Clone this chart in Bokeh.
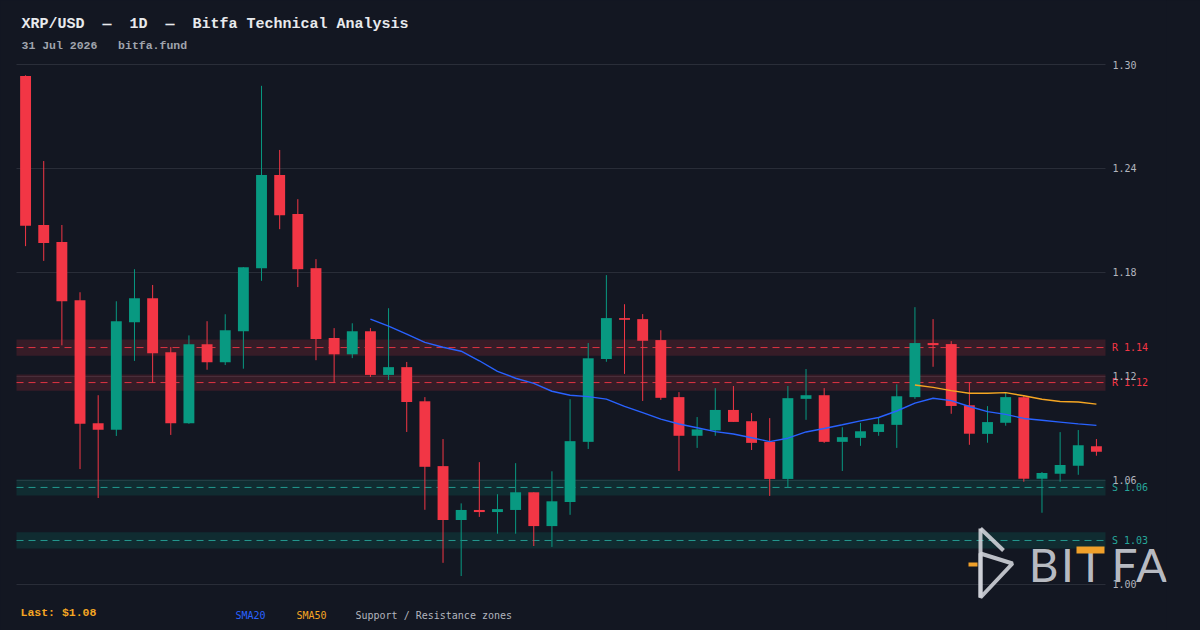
import numpy as np
import pandas as pd
from bokeh.plotting import figure
from bokeh.models import (Range1d, FixedTicker, PrintfTickFormatter, Label,
                          BoxAnnotation, PolyAnnotation, ColumnDataSource)
from bokeh.embed import file_html
from bokeh.resources import INLINE

# ---------------- data ----------------
opens = [1.2934, 1.2074, 1.1976, 1.1640, 1.0931, 1.0893, 1.1513, 1.1652, 1.1340, 1.0931,
         1.1386, 1.1282, 1.1461, 1.1825, 1.2362, 1.2137, 1.1825, 1.1422, 1.1328, 1.1461,
         1.1209, 1.1254, 1.1057, 1.0683, 1.0372, 1.0430, 1.0418, 1.0430, 1.0532, 1.0337,
         1.0476, 1.0823, 1.1301, 1.1537, 1.1531, 1.1410, 1.1081, 1.0858, 1.0889, 1.1007,
         1.0942, 1.0823, 1.0609, 1.1071, 1.1092, 1.0823, 1.0846, 1.0880, 1.0921, 1.1081,
         1.1393, 1.1387, 1.1034, 1.0869, 1.0933, 1.1081, 1.0610, 1.0639, 1.0685, 1.0798]
highs = [1.2938, 1.2443, 1.2074, 1.1686, 1.1092, 1.1634, 1.1819, 1.1728, 1.1370, 1.1437,
         1.1519, 1.1559, 1.1831, 1.2877, 1.2507, 1.2223, 1.1877, 1.1479, 1.1507, 1.1479,
         1.1594, 1.1284, 1.1081, 1.0839, 1.0468, 1.0706, 1.0521, 1.0700, 1.0532, 1.0653,
         1.1069, 1.1393, 1.1785, 1.1617, 1.1560, 1.1467, 1.1110, 1.0966, 1.1133, 1.1145,
         1.0989, 1.0960, 1.1145, 1.1243, 1.1133, 1.0907, 1.0932, 1.0966, 1.1155, 1.1600,
         1.1531, 1.1404, 1.1165, 1.1029, 1.1106, 1.1092, 1.0649, 1.0879, 1.0891, 1.0839]
lows = [1.1952, 1.1867, 1.1380, 1.0666, 1.0499, 1.0857, 1.1290, 1.1163, 1.0863, 1.0927,
        1.1239, 1.1266, 1.1245, 1.1752, 1.2050, 1.1716, 1.1294, 1.1167, 1.1306, 1.1197,
        1.1180, 1.0880, 1.0431, 1.0125, 1.0049, 1.0390, 1.0293, 1.0293, 1.0222, 1.0217,
        1.0402, 1.0782, 1.1285, 1.1215, 1.1059, 1.1065, 1.0655, 1.0788, 1.0858, 1.0938,
        1.0776, 1.0511, 1.0560, 1.0950, 1.0817, 1.0655, 1.0800, 1.0858, 1.0788, 1.1071,
        1.1256, 1.0985, 1.0806, 1.0818, 1.0916, 1.0593, 1.0414, 1.0593, 1.0633, 1.0743]
closes = [1.2069, 1.1970, 1.1634, 1.0927, 1.0893, 1.1519, 1.1652, 1.1334, 1.0931, 1.1386,
          1.1282, 1.1467, 1.1831, 1.2362, 1.2131, 1.1819, 1.1416, 1.1328, 1.1461, 1.1209,
          1.1254, 1.1053, 1.0679, 1.0372, 1.0430, 1.0418, 1.0435, 1.0532, 1.0337, 1.0480,
          1.0827, 1.1305, 1.1537, 1.1527, 1.1406, 1.1077, 1.0858, 1.0895, 1.1007, 1.0938,
          1.0817, 1.0609, 1.1075, 1.1092, 1.0823, 1.0850, 1.0884, 1.0925, 1.1086, 1.1393,
          1.1381, 1.1030, 1.0870, 1.0937, 1.1081, 1.0610, 1.0643, 1.0689, 1.0804, 1.0766]
resistance_levels = [1.1367, 1.1165]
support_levels = [1.0560, 1.0254]
zone_half_width = 0.0047
y_ticks = [1.00, 1.06, 1.12, 1.18, 1.24, 1.30]
NB = "\u00a0"  # keep the wide gaps of the original header
title_text = f"XRP/USD{NB*2}\u2014{NB*2}1D{NB*2}\u2014{NB*2}Bitfa Technical Analysis"
subtitle_text = f"31 Jul 2026{NB*3}bitfa.fund"
legend_items = ["SMA20", "SMA50", "Support / Resistance zones"]

# ---------------- style ----------------
BG = "#131722"
GRID = "#2a2e39"
UP = "#089981"
DOWN = "#f23645"
SUP = "#26a69a"
BLUE = "#2962ff"
ORANGE = "#f5a623"
AXIS_TXT = "#b2b5be"
MONO = "DejaVu Sans Mono"
HEAD = "Liberation Mono"

W, H = 1200, 630
MR = 34                      # right panel holds the price axis
FW, FH = W - MR, H
n = len(closes)
c0, c1 = -0.5, n - 0.5       # candle area
PX_X = 18.15                 # px per candle slot
PX_Y = 1733.33               # px per price unit
x_start = c0 - 16 / PX_X
x_end = x_start + FW / PX_X
y_top = 1.30 + 64 / PX_Y
y_bot = y_top - FH / PX_Y


def dx(px):  # page pixel -> data x
    return x_start + px / PX_X


def dy(py):  # page pixel -> data y
    return y_top - py / PX_Y


p = figure(width=W, height=H, output_backend="svg", toolbar_location=None,
           x_axis_location=None, y_axis_location="right",
           x_range=Range1d(x_start, x_end), y_range=Range1d(y_bot, y_top),
           min_border_left=0, min_border_right=MR,
           min_border_top=0, min_border_bottom=0)
p.background_fill_color = BG
p.border_fill_color = BG
p.outline_line_color = None
p.xgrid.visible = False
p.ygrid.visible = False

ax = p.yaxis[0]
ax.fixed_location = c1
ax.level = "overlay"
ax.ticker = FixedTicker(ticks=y_ticks)
ax.formatter = PrintfTickFormatter(format="%.2f")
ax.axis_line_color = None
ax.major_tick_line_color = None
ax.minor_tick_line_color = None
ax.major_tick_out = 0
ax.major_tick_in = 0
ax.major_label_standoff = 7
ax.major_label_text_font = MONO
ax.major_label_text_font_size = "10px"
ax.major_label_text_color = AXIS_TXT

# grid lines across the candle area
p.segment(x0=c0, x1=c1, y0=y_ticks, y1=y_ticks, line_color=GRID, line_width=1)

# support / resistance zones
levels = resistance_levels + support_levels
tags = ["R"] * len(resistance_levels) + ["S"] * len(support_levels)
zfill = [DOWN if t == "R" else UP for t in tags]
zline = [DOWN if t == "R" else SUP for t in tags]
zsrc = ColumnDataSource(dict(
    lvl=levels, bottom=[l - zone_half_width for l in levels],
    top=[l + zone_half_width for l in levels], fill=zfill, line=zline))
p.quad(left=c0, right=c1, bottom="bottom", top="top", fill_color="fill",
       fill_alpha=0.16, line_color=None, source=zsrc)
p.segment(x0=c0, x1=c1, y0="lvl", y1="lvl", line_color="line", line_dash="7 5",
          line_width=1, line_alpha=0.9, source=zsrc)
for lvl, tag, col in zip(levels, tags, zline):
    p.add_layout(Label(x=c1, y=lvl, x_offset=6.5, text=f"{tag} {lvl:.2f}",
                       text_font=MONO, text_font_size="10px", text_color=col,
                       text_baseline="middle", text_align="left"))

# candles
o = np.array(opens); c = np.array(closes)
src = ColumnDataSource(dict(
    x=np.arange(n), high=highs, low=lows,
    top=np.maximum(o, c), bottom=np.minimum(o, c),
    color=[UP if cc >= oo else DOWN for oo, cc in zip(opens, closes)]))
p.segment(x0="x", y0="high", x1="x", y1="low", line_color="color", line_width=1, source=src)
p.vbar(x="x", width=0.6, top="top", bottom="bottom", fill_color="color",
       line_color=None, source=src)

# moving averages
s = pd.Series(closes)
p.line(np.arange(n), s.rolling(20).mean().to_numpy(), line_color=BLUE, line_width=1.4)
p.line(np.arange(n), s.rolling(50).mean().to_numpy(), line_color=ORANGE, line_width=1.4)

# header texts
p.add_layout(Label(x=dx(21), y=dy(24), text=title_text, text_font=HEAD,
                   text_font_size="15px", text_font_style="bold", text_color="#e8eaed",
                   text_baseline="middle"))
p.add_layout(Label(x=dx(21), y=dy(45), text=subtitle_text, text_font=HEAD,
                   text_font_size="11.5px", text_font_style="bold", text_color="#a0a4ad",
                   text_baseline="middle"))

# footer texts
p.add_layout(Label(x=dx(20), y=dy(612), text=f"Last: ${closes[-1]:.2f}", text_font=HEAD,
                   text_font_size="11.5px", text_font_style="bold", text_color=ORANGE,
                   text_baseline="middle"))
for txt, px, col in zip(legend_items, [235, 296, 355], [BLUE, ORANGE, AXIS_TXT]):
    p.add_layout(Label(x=dx(px), y=dy(615), text=txt, text_font=MONO,
                       text_font_size="10px", text_color=col, text_baseline="middle"))

# watermark logo
LOGO = "#cfd2d8"
for seg in ([(980, 528), (1003, 550)], [(980, 528), (980, 597)],
            [(980, 553), (1012, 563), (980, 597)]):
    p.add_layout(PolyAnnotation(xs=[dx(a) for a, b in seg], ys=[dy(b) for a, b in seg],
                                fill_alpha=0, line_color=LOGO, line_width=4,
                                line_alpha=0.9))
for ch, px in zip("BITFA", [1043, 1067, 1090, 1124, 1151]):
    p.add_layout(Label(x=dx(px), y=dy(564), text=ch, text_font="Lato",
                       text_font_size="46px", text_color=LOGO, text_alpha=0.9,
                       text_align="center", text_baseline="alphabetic"))
for l, r, t, b in ([1076, 1104, 546, 553], [968, 977, 562, 566]):
    p.add_layout(BoxAnnotation(left=dx(l), right=dx(r), top=dy(t), bottom=dy(b),
                               fill_color="#f0a02a", fill_alpha=1, line_color=None))

html = file_html(p, INLINE).replace(
    "</head>", "<style>html,body{background:#131722;}</style></head>", 1)
open("out.html", "w").write(html)
